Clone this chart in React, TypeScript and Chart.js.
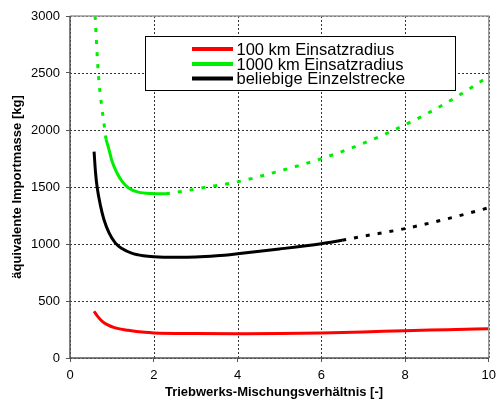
import React, { useEffect, useRef } from "react";
import { Chart, registerables } from "chart.js";

Chart.register(...registerables);

const xTicks = [0, 2, 4, 6, 8, 10];
const yTicks = [0, 500, 1000, 1500, 2000, 2500, 3000];

const red100X = [0.575, 0.65, 0.77, 0.9, 1.08, 1.39, 1.79, 2.0, 3.0, 4.0, 5.0, 6.0, 7.0, 8.0, 9.0, 10.0];
const red100Y = [410, 370, 322, 290, 264, 243, 225, 220, 215, 213, 214, 219, 228, 240, 248, 257];

const green1000DotLeftX = [0.6, 0.675, 0.76, 0.83, 0.86];
const green1000DotLeftY = [3000, 2500, 2200, 2006, 1918];
const green1000X = [0.86, 0.93, 1.0, 1.12, 1.24, 1.39, 1.63, 1.94, 2.29];
const green1000Y = [1918, 1830, 1730, 1625, 1551, 1493, 1455, 1443, 1441];
const green1000DotRightX = [2.29, 2.72, 3.2, 4.0, 5.0, 6.0, 7.0, 8.0, 9.0, 10.0];
const green1000DotRightY = [1441, 1464, 1495, 1545, 1640, 1748, 1882, 2045, 2240, 2470];

const blackX = [0.575, 0.61, 0.65, 0.73, 0.81, 0.93, 1.08, 1.24, 1.47, 1.75, 2.0, 2.5, 3.0, 3.5, 4.0, 5.0, 6.0, 6.5];
const blackY = [1810, 1625, 1493, 1332, 1215, 1100, 1010, 960, 920, 897, 888, 883, 885, 896, 914, 956, 1003, 1033];
const blackDotX = [6.5, 7.0, 8.0, 9.0, 10.0];
const blackDotY = [1033, 1068, 1135, 1220, 1318];

const legendLabels = ["100 km Einsatzradius", "1000 km Einsatzradius", "beliebige Einzelstrecke"];
const legendColors = ["#ff0000", "#00ee00", "#000000"];
const xTitle = "Triebwerks-Mischungsverhältnis [-]";
const yTitle = "äquivalente Importmasse [kg]";

const pts = (xs: number[], ys: number[]) => xs.map((x, i) => ({ x, y: ys[i] }));

const FONT = "'Liberation Sans', Arial, sans-serif";

const gridPlugin = {
  id: "dotgrid",
  beforeDatasetsDraw(chart: any) {
    const { ctx, chartArea, scales } = chart;
    const { left, right, top, bottom } = chartArea;
    ctx.save();
    ctx.strokeStyle = "#333333";
    ctx.lineWidth = 1;
    ctx.setLineDash([2, 2]);
    xTicks.forEach((v) => {
      const px = Math.round(scales.x.getPixelForValue(v)) + 0.5;
      ctx.beginPath();
      ctx.moveTo(px, top);
      ctx.lineTo(px, bottom);
      ctx.stroke();
    });
    yTicks.forEach((v) => {
      const py = Math.round(scales.y.getPixelForValue(v)) + 0.5;
      ctx.beginPath();
      ctx.moveTo(left, py);
      ctx.lineTo(right, py);
      ctx.stroke();
    });
    ctx.restore();
  },
};

const overlayPlugin = {
  id: "overlay",
  afterDraw(chart: any) {
    const { ctx, chartArea } = chart;
    const { left, right, top, bottom } = chartArea;
    ctx.save();
    ctx.lineWidth = 1.5;
    ctx.strokeStyle = "#999999";
    ctx.beginPath();
    ctx.moveTo(left, top);
    ctx.lineTo(right, top);
    ctx.lineTo(right, bottom);
    ctx.stroke();
    ctx.strokeStyle = "#555555";
    ctx.beginPath();
    ctx.moveTo(left, top);
    ctx.lineTo(left, bottom);
    ctx.lineTo(right, bottom);
    ctx.stroke();
    // legend
    const bx = 145, by = 36, bw = 310, bh = 54;
    ctx.fillStyle = "#ffffff";
    ctx.fillRect(bx, by, bw, bh);
    ctx.lineWidth = 1;
    ctx.strokeStyle = "#000000";
    ctx.strokeRect(bx + 0.5, by + 0.5, bw, bh);
    const rows = [49, 64, 78.5];
    ctx.font = `16.5px ${FONT}`;
    ctx.textBaseline = "middle";
    ctx.textAlign = "left";
    legendLabels.forEach((lab, i) => {
      ctx.strokeStyle = legendColors[i];
      ctx.lineWidth = 4;
      ctx.beginPath();
      ctx.moveTo(192, rows[i]);
      ctx.lineTo(233, rows[i]);
      ctx.stroke();
      ctx.fillStyle = "#000000";
      ctx.fillText(lab, 236.5, rows[i] + 1);
    });
    // axis titles
    ctx.font = `bold 13px ${FONT}`;
    ctx.fillStyle = "#000000";
    ctx.textAlign = "center";
    ctx.textBaseline = "middle";
    ctx.fillText(xTitle, 274, 392);
    ctx.save();
    ctx.translate(17, (top + bottom) / 2);
    ctx.rotate(-Math.PI / 2);
    ctx.fillText(yTitle, 0, 0);
    ctx.restore();
    ctx.restore();
  },
};

export default function App() {
  const ref = useRef<HTMLCanvasElement>(null);
  useEffect(() => {
    document.body.style.margin = "0";
    if (!ref.current) return;
    const solid = (data: any, color: string) => ({
      data,
      borderColor: color,
      backgroundColor: color,
      borderWidth: 3,
      pointRadius: 0,
      cubicInterpolationMode: "monotone",
      fill: false,
    });
    const dotted = (data: any, color: string) => ({
      ...solid(data, color),
      borderDash: [4, 8],
    });
    const chart = new Chart(ref.current, {
      type: "line",
      data: {
        datasets: [
          dotted(pts(green1000DotLeftX, green1000DotLeftY), "#00ee00"),
          dotted(pts(green1000DotRightX, green1000DotRightY), "#00ee00"),
          solid(pts(green1000X, green1000Y), "#00ee00"),
          dotted(pts(blackDotX, blackDotY), "#000000"),
          solid(pts(blackX, blackY), "#000000"),
          solid(pts(red100X, red100Y), "#ff0000"),
        ] as any,
      },
      options: {
        responsive: false,
        animation: false,
        layout: { padding: { top: 16, right: 5, left: 0, bottom: 0 } },
        plugins: { legend: { display: false }, tooltip: { enabled: false } },
        scales: {
          x: {
            type: "linear",
            min: 0,
            max: 10,
            afterFit: (s: any) => { s.height = 41; },
            afterBuildTicks: (s: any) => { s.ticks = xTicks.map((v) => ({ value: v })); },
            ticks: { font: { size: 13, family: FONT }, color: "#000", padding: 6, maxRotation: 0, callback: (v: any) => String(v) },
            grid: { drawOnChartArea: false, tickLength: 4, tickColor: "#555555", lineWidth: 1 },
            border: { display: false },
          },
          y: {
            type: "linear",
            min: 0,
            max: 3000,
            afterFit: (s: any) => { s.width = 70; },
            afterBuildTicks: (s: any) => { s.ticks = yTicks.map((v) => ({ value: v })); },
            ticks: { font: { size: 13, family: FONT }, color: "#000", padding: 6, callback: (v: any) => String(v) },
            grid: { drawOnChartArea: false, tickLength: 4, tickColor: "#555555", lineWidth: 1 },
            border: { display: false },
          },
        },
      },
      plugins: [gridPlugin, overlayPlugin],
    });
    return () => chart.destroy();
  }, []);
  return <canvas ref={ref} width={502} height={399} style={{ display: "block" }} />;
}
